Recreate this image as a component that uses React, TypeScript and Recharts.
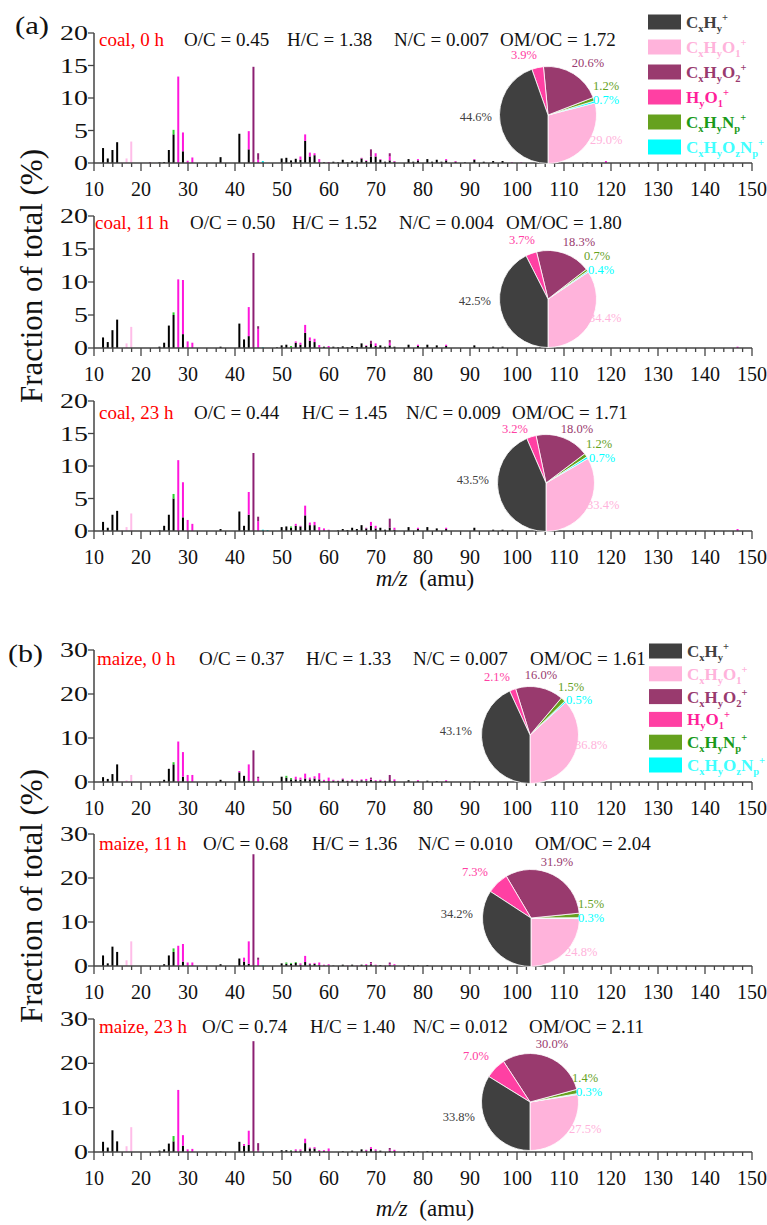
import React from 'react';
import { BarChart, Bar, XAxis, YAxis, PieChart, Pie, Cell } from 'recharts';

const FONT = '"Liberation Serif", "Times New Roman", serif';
const AXIS = '#444';

const FAMILIES = ['CxHy', 'CxHyO1', 'CxHyO2', 'HyO1', 'CxHyNp', 'CxHyOzNp'] as const;
type Fam = (typeof FAMILIES)[number];
type Pairs = [number, number][];

// ---- spectra (m/z, % of total) ----
const coal0_CxHy: Pairs = [[12,2.3],[13,0.7],[14,2.0],[15,3.2],[24,0.1],[25,0.15],[26,2.0],[27,4.4],[29,1.8],[37,0.9],[41,4.5],[43,2.1],[50,0.7],[51,0.8],[52,0.4],[53,0.65],[54,0.5],[55,3.4],[56,1.0],[57,1.2],[58,0.1],[59,0.1],[61,0.2],[62,0.1],[63,0.5],[64,0.1],[65,0.35],[66,0.2],[67,0.7],[68,0.3],[69,1.0],[70,1.0],[71,0.5],[72,0.2],[73,0.4],[74,0.2],[77,0.6],[78,0.2],[79,0.4],[81,0.6],[82,0.2],[83,0.5],[84,0.2],[85,0.4],[87,0.2],[89,0.1],[91,0.5],[93,0.2],[95,0.3],[97,0.3],[105,0.3],[109,0.1],[115,0.1],[128,0.1]];
const coal0_CxHyO1: Pairs = [[28,13.3],[29,2.9],[30,0.35],[31,0.85],[43,2.8],[45,0.5],[54,0.5],[55,1.0],[56,0.6],[57,0.3],[58,0.5],[60,0.15],[67,0.1],[68,0.1],[70,0.5],[71,0.1],[73,0.6],[74,0.1],[79,0.2],[85,0.2],[87,0.1],[91,0.1],[99,0.1],[101,0.1],[119,0.3]];
const coal0_CxHyO2: Pairs = [[22,0.1],[44,14.8],[45,1.0],[69,1.1],[73,0.5]];
const coal0_HyO1: Pairs = [[16,0.1],[17,0.7],[18,3.3]];
const coal0_CxHyNp: Pairs = [[27,0.7]];
const coal0_CxHyOzNp: Pairs = [[46,0.3]];

const coal11_CxHy: Pairs = [[12,1.6],[13,0.9],[14,2.7],[15,4.3],[24,0.2],[25,0.8],[26,3.4],[27,5.0],[29,2.1],[37,0.2],[41,3.7],[42,1.3],[43,1.8],[49,0.1],[50,0.4],[51,0.5],[53,0.8],[54,0.5],[55,2.3],[56,1.1],[57,0.9],[59,0.2],[61,0.2],[62,0.1],[63,0.25],[64,0.1],[65,0.3],[66,0.15],[67,0.7],[68,0.3],[69,0.6],[70,0.3],[71,0.4],[72,0.2],[73,0.4],[74,0.2],[77,0.5],[79,0.3],[81,0.5],[83,0.4],[85,0.3],[91,0.4],[95,0.2],[97,0.2],[105,0.2]];
const coal11_CxHyO1: Pairs = [[28,10.4],[29,8.2],[30,1.0],[31,0.8],[43,4.4],[45,2.9],[53,0.2],[54,0.3],[55,1.2],[56,0.5],[57,0.5],[58,0.45],[60,0.3],[68,0.1],[70,0.4],[73,0.4],[79,0.2],[85,0.2],[147,0.2]];
const coal11_CxHyO2: Pairs = [[44,14.4],[45,0.4],[69,0.5],[73,0.4]];
const coal11_HyO1: Pairs = [[17,0.7],[18,3.2]];
const coal11_CxHyNp: Pairs = [[27,0.4],[52,0.3]];
const coal11_CxHyOzNp: Pairs = [[46,0.1]];

const coal23_CxHy: Pairs = [[12,1.4],[13,0.5],[14,2.5],[15,3.1],[24,0.1],[25,0.8],[26,2.5],[27,5.0],[29,2.1],[37,0.3],[41,3.0],[42,0.8],[43,2.5],[50,0.6],[51,0.7],[52,0.5],[53,0.8],[54,0.7],[55,2.4],[56,0.9],[57,0.9],[59,0.1],[60,0.1],[62,0.1],[63,0.3],[64,0.15],[65,0.5],[66,0.3],[67,0.9],[68,0.4],[69,0.8],[70,0.4],[71,0.5],[72,0.2],[73,0.5],[74,0.2],[77,0.6],[79,0.3],[81,0.6],[83,0.4],[85,0.3],[91,0.5],[95,0.2],[97,0.2],[105,0.2]];
const coal23_CxHyO1: Pairs = [[28,10.9],[29,5.4],[30,1.7],[31,1.1],[43,3.5],[45,1.5],[53,0.3],[54,0.1],[55,1.5],[56,0.4],[57,0.5],[58,0.6],[59,0.3],[60,0.1],[68,0.1],[69,0.6],[70,0.4],[74,0.3],[79,0.2],[85,0.2],[147,0.3]];
const coal23_CxHyO2: Pairs = [[44,12.0],[45,0.7],[73,1.4]];
const coal23_HyO1: Pairs = [[16,0.1],[17,0.6],[18,2.7]];
const coal23_CxHyNp: Pairs = [[27,0.7],[52,0.2]];
const coal23_CxHyOzNp: Pairs = [[46,0.2],[47,0.15]];

const maize0_CxHy: Pairs = [[12,1.1],[13,0.7],[14,1.8],[15,4.0],[24,0.1],[25,0.5],[26,3.0],[27,4.0],[29,1.2],[37,0.5],[41,2.2],[42,1.4],[43,0.3],[50,1.2],[51,1.0],[52,0.6],[53,0.6],[54,0.5],[55,0.8],[56,0.6],[57,0.8],[58,0.6],[59,0.2],[60,0.2],[61,0.3],[62,0.2],[63,0.6],[64,0.2],[65,0.4],[66,0.2],[67,0.4],[68,0.3],[69,0.5],[70,0.2],[71,0.3],[72,0.2],[73,0.4],[74,0.2],[77,0.4],[79,0.2],[81,0.3],[83,0.2],[85,0.2],[91,0.2]];
const maize0_CxHyO1: Pairs = [[28,9.2],[29,5.6],[30,1.6],[31,1.6],[41,0.3],[43,3.7],[45,0.8],[53,0.6],[54,0.5],[55,1.1],[56,0.4],[57,0.5],[58,1.4],[59,0.3],[60,0.8],[61,0.2],[62,0.1],[63,0.2],[64,0.1],[65,0.2],[66,0.1],[67,0.2],[68,0.4],[69,0.2],[70,0.2],[71,0.2],[72,0.1],[74,0.4],[79,0.2],[85,0.2]];
const maize0_CxHyO2: Pairs = [[44,7.2],[45,0.4],[69,0.3],[73,1.2]];
const maize0_HyO1: Pairs = [[16,0.1],[17,0.4],[18,1.6]];
const maize0_CxHyNp: Pairs = [[27,0.5],[51,0.4],[52,0.3]];
const maize0_CxHyOzNp: Pairs = [[46,0.1]];

const maize11_CxHy: Pairs = [[12,2.4],[13,0.6],[14,4.4],[15,3.2],[25,0.4],[26,2.4],[27,3.2],[29,1.0],[37,0.4],[41,1.7],[42,1.0],[43,0.5],[50,0.6],[51,0.5],[52,0.5],[53,0.7],[54,0.3],[55,0.9],[56,0.4],[57,0.5],[58,0.2],[59,0.1],[60,0.1],[61,0.1],[63,0.3],[65,0.3],[67,0.3],[68,0.2],[69,0.4],[70,0.1],[71,0.2],[73,0.2],[74,0.1],[77,0.2],[79,0.1],[81,0.2]];
const maize11_CxHyO1: Pairs = [[28,4.6],[29,4.0],[30,0.8],[31,0.8],[42,0.9],[43,5.1],[45,1.4],[54,0.3],[55,1.4],[56,0.2],[57,0.2],[58,0.6],[59,0.2],[60,0.3],[64,0.1],[66,0.1],[68,0.2],[69,0.2],[70,0.2],[72,0.1],[73,0.2],[74,0.3]];
const maize11_CxHyO2: Pairs = [[44,25.4],[45,0.5],[69,0.3],[73,0.4]];
const maize11_HyO1: Pairs = [[17,1.3],[18,5.6]];
const maize11_CxHyNp: Pairs = [[27,0.8],[51,0.3],[52,0.2],[53,0.2]];
const maize11_CxHyOzNp: Pairs = [[46,0.1]];

const maize23_CxHy: Pairs = [[12,2.3],[13,1.0],[14,4.9],[15,2.4],[24,0.3],[25,0.6],[26,1.9],[27,2.4],[29,1.4],[37,0.1],[41,2.3],[42,1.4],[43,1.6],[50,0.4],[51,0.4],[52,0.3],[53,0.3],[54,0.3],[55,2.0],[56,0.8],[57,0.8],[58,0.2],[59,0.2],[60,0.1],[63,0.2],[65,0.3],[67,0.6],[68,0.3],[69,0.7],[70,0.3],[71,0.3],[73,0.3],[74,0.2],[77,0.2],[79,0.1],[81,0.2]];
const maize23_CxHyO1: Pairs = [[28,14.0],[29,2.4],[30,0.6],[31,0.7],[42,0.4],[43,3.2],[45,0.3],[53,0.3],[54,0.3],[55,1.0],[56,0.2],[57,0.3],[58,0.2],[59,0.2],[60,0.7],[68,0.2],[69,0.4],[70,0.3],[73,0.2],[74,0.3]];
const maize23_CxHyO2: Pairs = [[44,25.0],[45,1.7],[73,0.4]];
const maize23_HyO1: Pairs = [[17,1.3],[18,5.6]];
const maize23_CxHyNp: Pairs = [[27,1.2],[52,0.1]];
const maize23_CxHyOzNp: Pairs = [[46,0.1]];

// ---- pie fractions (%), order: CxHy, CxHyO1, CxHyO2, HyO1, CxHyNp, CxHyOzNp ----
const coal0_pie = [44.6, 29.0, 20.6, 3.9, 1.2, 0.7];
const coal11_pie = [42.5, 34.4, 18.3, 3.7, 0.7, 0.4];
const coal23_pie = [43.5, 33.4, 18.0, 3.2, 1.2, 0.7];
const maize0_pie = [43.1, 36.8, 16.0, 2.1, 1.5, 0.5];
const maize11_pie = [34.2, 24.8, 31.9, 7.3, 1.5, 0.3];
const maize23_pie = [33.8, 27.5, 30.0, 7.0, 1.4, 0.3];

// ---- header texts ----
const sampleNames = ['coal, 0 h', 'coal, 11 h', 'coal, 23 h', 'maize, 0 h', 'maize, 11 h', 'maize, 23 h'];
const ocRatios = ['0.45', '0.50', '0.44', '0.37', '0.68', '0.74'];
const hcRatios = ['1.38', '1.52', '1.45', '1.33', '1.36', '1.40'];
const ncRatios = ['0.007', '0.004', '0.009', '0.007', '0.010', '0.012'];
const omocRatios = ['1.72', '1.80', '1.71', '1.61', '2.04', '2.11'];

const X_TICKS: number[] = [];
for (let v = 10; v <= 150; v += 2) X_TICKS.push(v);

const BAR_COLORS: Record<Fam, string> = {
  CxHy: '#000000', CxHyO1: '#ff17dc', CxHyO2: '#8c1f72', HyO1: '#ffbde8', CxHyNp: '#2ecc2e', CxHyOzNp: '#00e8e8',
};
const PIE_COLORS: Record<Fam, string> = {
  CxHy: '#404040', CxHyO1: '#ffb3db', CxHyO2: '#993a6e', HyO1: '#ff40a3', CxHyNp: '#66a11e', CxHyOzNp: '#00ffff',
};
const LEGEND_TEXT: Record<Fam, string> = {
  CxHy: '#404040', CxHyO1: '#ffb3db', CxHyO2: '#993a6e', HyO1: '#ff1f9a', CxHyNp: '#1a9a1a', CxHyOzNp: '#40ffff',
};
const PIE_ORDER: Fam[] = ['CxHyO1', 'CxHyOzNp', 'CxHyNp', 'CxHyO2', 'HyO1', 'CxHy'];
const LABEL_ANCHOR: Record<Fam, string> = {
  CxHy: 'end', CxHyO1: 'start', CxHyO2: 'middle', HyO1: 'middle', CxHyNp: 'start', CxHyOzNp: 'start',
};

type Panel = {
  series: Record<Fam, Pairs>;
  pie: number[];
  top: number; zero: number; yMax: number; yTicks: number[];
  textY: number; textX: number[];
  pieX: number; pieY: number;
  labelOff: Record<Fam, [number, number]>;
};

const PANELS: Panel[] = [
  {
    series: { CxHy: coal0_CxHy, CxHyO1: coal0_CxHyO1, CxHyO2: coal0_CxHyO2, HyO1: coal0_HyO1, CxHyNp: coal0_CxHyNp, CxHyOzNp: coal0_CxHyOzNp },
    pie: coal0_pie, top: 33, zero: 163, yMax: 20, yTicks: [0, 5, 10, 15, 20],
    textY: 46, textX: [99, 184, 287, 394, 500], pieX: 543, pieY: 110,
    labelOff: { CxHy: [-51, 7], CxHyO1: [47, 30], CxHyO2: [45, -47], HyO1: [-19, -55], CxHyNp: [50, -24], CxHyOzNp: [50, -10] },
  },
  {
    series: { CxHy: coal11_CxHy, CxHyO1: coal11_CxHyO1, CxHyO2: coal11_CxHyO2, HyO1: coal11_HyO1, CxHyNp: coal11_CxHyNp, CxHyOzNp: coal11_CxHyOzNp },
    pie: coal11_pie, top: 216, zero: 348, yMax: 20, yTicks: [0, 5, 10, 15, 20],
    textY: 229, textX: [95, 190, 292, 399, 506], pieX: 543, pieY: 294,
    labelOff: { CxHy: [-52, 7], CxHyO1: [46, 24], CxHyO2: [36, -52], HyO1: [-21, -54], CxHyNp: [41, -38], CxHyOzNp: [45, -24] },
  },
  {
    series: { CxHy: coal23_CxHy, CxHyO1: coal23_CxHyO1, CxHyO2: coal23_CxHyO2, HyO1: coal23_HyO1, CxHyNp: coal23_CxHyNp, CxHyOzNp: coal23_CxHyOzNp },
    pie: coal23_pie, top: 401, zero: 531, yMax: 20, yTicks: [0, 5, 10, 15, 20],
    textY: 419, textX: [99, 194, 302, 406, 512], pieX: 541, pieY: 478,
    labelOff: { CxHy: [-52, 2], CxHyO1: [46, 27], CxHyO2: [36, -49], HyO1: [-26, -49], CxHyNp: [45, -34], CxHyOzNp: [48, -20] },
  },
  {
    series: { CxHy: maize0_CxHy, CxHyO1: maize0_CxHyO1, CxHyO2: maize0_CxHyO2, HyO1: maize0_HyO1, CxHyNp: maize0_CxHyNp, CxHyOzNp: maize0_CxHyOzNp },
    pie: maize0_pie, top: 650, zero: 782, yMax: 30, yTicks: [0, 10, 20, 30],
    textY: 665, textX: [97, 199, 306, 413, 530], pieX: 525, pieY: 730,
    labelOff: { CxHy: [-53, 1], CxHyO1: [50, 15], CxHyO2: [16, -55], HyO1: [-28, -53], CxHyNp: [33, -43], CxHyOzNp: [41, -30] },
  },
  {
    series: { CxHy: maize11_CxHy, CxHyO1: maize11_CxHyO1, CxHyO2: maize11_CxHyO2, HyO1: maize11_HyO1, CxHyNp: maize11_CxHyNp, CxHyOzNp: maize11_CxHyOzNp },
    pie: maize11_pie, top: 834, zero: 966, yMax: 30, yTicks: [0, 10, 20, 30],
    textY: 850, textX: [99, 203, 312, 418, 535], pieX: 526, pieY: 913,
    labelOff: { CxHy: [-53, 1], CxHyO1: [39, 39], CxHyO2: [31, -51], HyO1: [-51, -41], CxHyNp: [52, -9], CxHyOzNp: [52, 5] },
  },
  {
    series: { CxHy: maize23_CxHy, CxHyO1: maize23_CxHyO1, CxHyO2: maize23_CxHyO2, HyO1: maize23_HyO1, CxHyNp: maize23_CxHyNp, CxHyOzNp: maize23_CxHyOzNp },
    pie: maize23_pie, top: 1019, zero: 1152, yMax: 30, yTicks: [0, 10, 20, 30],
    textY: 1033, textX: [99, 202, 310, 413, 529], pieX: 525, pieY: 1097,
    labelOff: { CxHy: [-50, 20], CxHyO1: [44, 32], CxHyO2: [27, -53], HyO1: [-49, -41], CxHyNp: [47, -19], CxHyOzNp: [51, -5] },
  },
];

const PLOT_LEFT = 94;
const PLOT_RIGHT = 752;
const PIE_BOX_W = 260;
const PIE_BOX_H = 180;
const PIE_R = 48.5;

function buildRows(series: Record<Fam, Pairs>) {
  const rows: Record<string, number>[] = [];
  for (let mz = 12; mz <= 150; mz++) {
    const row: Record<string, number> = { mz };
    FAMILIES.forEach((f) => {
      const hit = series[f].find((p) => p[0] === mz);
      row[f] = hit ? hit[1] : 0;
    });
    rows.push(row);
  }
  return rows;
}

const XTick = (props: any) => {
  const { x, y, payload } = props;
  const v = payload.value as number;
  const major = v % 10 === 0;
  return (
    <g>
      <line x1={x} x2={x} y1={y} y2={y + (major ? 8 : 4)} stroke={AXIS} strokeWidth={1.3} />
      {major && (
        <text x={x} y={y + 33} textAnchor="middle" fontSize={20} fill="#111" fontFamily={FONT}>{v}</text>
      )}
    </g>
  );
};

const YTick = (props: any) => {
  const { x, y, payload } = props;
  return (
    <g>
      <line x1={x - 6} x2={x} y1={y} y2={y} stroke={AXIS} strokeWidth={1.3} />
      <text transform={`translate(${x - 6},${y + 7}) scale(1.4,1)`} textAnchor="end" fontSize={20} fill="#111" fontFamily={FONT}>
        {payload.value}
      </text>
    </g>
  );
};

function Spectrum({ p }: { p: Panel }) {
  const plotH = p.zero - p.top;
  const rows = buildRows(p.series);
  return (
    <div style={{ position: 'absolute', left: 0, top: p.top - 20 }}>
      <BarChart width={767} height={plotH + 60} data={rows} barSize={2}
        margin={{ top: 20, right: 767 - PLOT_RIGHT, bottom: 0, left: 0 }}>
        <XAxis type="number" dataKey="mz" domain={[10, 150]} ticks={X_TICKS} interval={0} height={40}
          tickSize={0} tickMargin={0} tick={<XTick />} stroke={AXIS} strokeWidth={1.5} allowDataOverflow />
        <YAxis type="number" domain={[0, p.yMax]} ticks={p.yTicks} interval={0} width={PLOT_LEFT}
          tickSize={0} tickMargin={0} tick={<YTick />} stroke={AXIS} strokeWidth={1.5} />
        {FAMILIES.map((f) => (
          <Bar key={f} dataKey={f} stackId="s" fill={BAR_COLORS[f]} isAnimationActive={false} />
        ))}
      </BarChart>
    </div>
  );
}

function FamilyPie({ p }: { p: Panel }) {
  const data = PIE_ORDER.map((f) => ({ fam: f, value: p.pie[FAMILIES.indexOf(f)] }));
  const cx = PIE_BOX_W / 2;
  const cy = PIE_BOX_H / 2;
  const renderLabel = (props: any) => {
    const f = data[props.index].fam;
    const [dx, dy] = p.labelOff[f];
    return (
      <text x={cx + dx} y={cy + dy + 4.3} textAnchor={LABEL_ANCHOR[f]} fontSize={12.5}
        fill={PIE_COLORS[f]} fontFamily={FONT}>
        {data[props.index].value.toFixed(1)}%
      </text>
    );
  };
  return (
    <div style={{ position: 'absolute', left: p.pieX - cx, top: p.pieY - cy }}>
      <PieChart width={PIE_BOX_W} height={PIE_BOX_H}>
        <Pie data={data} dataKey="value" cx={cx} cy={cy} outerRadius={PIE_R} startAngle={-90} endAngle={270}
          stroke="#fff" strokeWidth={0.8} label={renderLabel} labelLine={false} isAnimationActive={false}>
          {data.map((d) => <Cell key={d.fam} fill={PIE_COLORS[d.fam]} />)}
        </Pie>
      </PieChart>
    </div>
  );
}

// legend label pieces: [text, 0 normal | 1 sub | 2 sup]
const LEGEND_PARTS: Record<Fam, [string, number][]> = {
  CxHy: [['C', 0], ['x', 1], ['H', 0], ['y', 1], ['+', 2]],
  CxHyO1: [['C', 0], ['x', 1], ['H', 0], ['y', 1], ['O', 0], ['1', 1], ['+', 2]],
  CxHyO2: [['C', 0], ['x', 1], ['H', 0], ['y', 1], ['O', 0], ['2', 1], ['+', 2]],
  HyO1: [['H', 0], ['y', 1], ['O', 0], ['1', 1], ['+', 2]],
  CxHyNp: [['C', 0], ['x', 1], ['H', 0], ['y', 1], ['N', 0], ['p', 1], ['+', 2]],
  CxHyOzNp: [['C', 0], ['x', 1], ['H', 0], ['y', 1], ['O', 0], ['z', 1], ['N', 0], ['p', 1], ['+', 2]],
};

function Legend({ x, y0, step }: { x: number; y0: number; step: number }) {
  return (
    <g>
      {FAMILIES.map((f, i) => {
        const cy = y0 + i * step;
        let level = 0;
        return (
          <g key={f}>
            <rect x={x} y={cy - 7.5} width={33} height={15} fill={PIE_COLORS[f]} />
            <text x={x + 38} y={cy + 6} fontSize={17} fontWeight="bold" fill={LEGEND_TEXT[f]} fontFamily={FONT}>
              {LEGEND_PARTS[f].map(([t, k], j) => {
                const target = k === 1 ? 4 : k === 2 ? -7 : 0;
                const dy = target - level;
                level = target;
                return (
                  <tspan key={j} dy={dy} fontSize={k === 0 ? 17 : 10.5}>{t}</tspan>
                );
              })}
            </text>
          </g>
        );
      })}
    </g>
  );
}

function Overlay() {
  return (
    <svg width={767} height={1225} style={{ position: 'absolute', left: 0, top: 0, pointerEvents: 'none' }}
      fontFamily={FONT}>
      <text x={15} y={34} fontSize={25} textLength={34} lengthAdjust="spacingAndGlyphs" fill="#111">(a)</text>
      <text x={8} y={662} fontSize={25} textLength={35} lengthAdjust="spacingAndGlyphs" fill="#111">(b)</text>
      <text transform="translate(42,276) rotate(-90)" textAnchor="middle" fontSize={31} fill="#111">Fraction of total (%)</text>
      <text transform="translate(42,896) rotate(-90)" textAnchor="middle" fontSize={31} fill="#111">Fraction of total (%)</text>
      {[586, 1216].map((yy) => (
        <text key={yy} x={425} y={yy} textAnchor="middle" fontSize={23} fill="#111">
          <tspan fontStyle="italic">m/z</tspan>
          <tspan>{'\u00a0 (amu)'}</tspan>
        </text>
      ))}
      {PANELS.map((p, i) => (
        <g key={i} fontSize={19}>
          <text x={p.textX[0]} y={p.textY} fill="#ff0000">{sampleNames[i]}</text>
          <text x={p.textX[1]} y={p.textY} fill="#111">{`O/C = ${ocRatios[i]}`}</text>
          <text x={p.textX[2]} y={p.textY} fill="#111">{`H/C = ${hcRatios[i]}`}</text>
          <text x={p.textX[3]} y={p.textY} fill="#111">{`N/C = ${ncRatios[i]}`}</text>
          <text x={p.textX[4]} y={p.textY} fill="#111">{`OM/OC = ${omocRatios[i]}`}</text>
        </g>
      ))}
      <Legend x={648} y0={22} step={25} />
      <Legend x={649} y0={651} step={22.8} />
    </svg>
  );
}

export default function App() {
  return (
    <div style={{ position: 'absolute', left: 0, top: 0, width: 767, height: 1225, background: '#fff', fontFamily: FONT }}>
      {PANELS.map((p, i) => <Spectrum key={i} p={p} />)}
      {PANELS.map((p, i) => <FamilyPie key={i} p={p} />)}
      <Overlay />
    </div>
  );
}
